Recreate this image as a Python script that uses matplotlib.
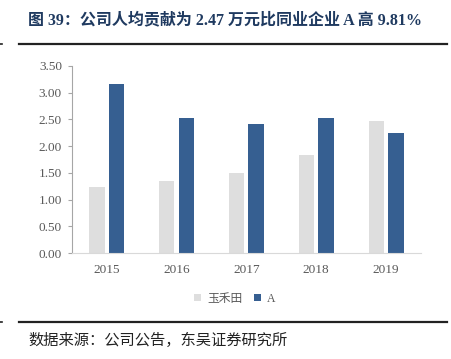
import matplotlib.pyplot as plt
import numpy as np

years = ['2015', '2016', '2017', '2018', '2019']
yuhetian = [1.23, 1.35, 1.49, 1.83, 2.47]
company_a = [3.16, 2.52, 2.42, 2.52, 2.25]
series_names = ['玉禾田', 'A']

serif_cjk = ['Liberation Serif', 'Noto Sans CJK SC']
plt.rcParams['font.family'] = serif_cjk

fig = plt.figure(figsize=(4.51, 3.59), dpi=100)
ax = fig.add_axes([71.7/451, 1-253/359, (421-71.7)/451, (253-66)/359])

x = np.arange(len(years))
w = 0.22
ax.bar(x - 0.14, yuhetian, w, color='#dedede', label=series_names[0])
ax.bar(x + 0.14, company_a, w, color='#365f91', label=series_names[1])

ax.set_xlim(-0.5, 4.5)
ax.set_ylim(0, 3.5)
ax.set_yticks(np.arange(0, 3.51, 0.5))
ax.set_yticklabels(['%.2f' % v for v in np.arange(0, 3.51, 0.5)])
ax.set_xticks(x)
ax.set_xticklabels(years)
ax.tick_params(axis='y', length=3, color='#a6a6a6', labelsize=9.5, labelcolor='#595959', pad=4)
ax.tick_params(axis='x', length=0, labelsize=9.5, labelcolor='#595959', pad=8)
for s in ['top', 'right']:
    ax.spines[s].set_visible(False)
ax.spines['left'].set_color('#a6a6a6')
ax.spines['bottom'].set_color('#d9d9d9')

leg = ax.legend(loc='center', bbox_to_anchor=(0.467, -0.245), ncol=2, frameon=False,
                fontsize=8.5, handlelength=0.6, handleheight=0.6, handletextpad=0.5,
                columnspacing=1.0)
for t in leg.get_texts():
    t.set_color('#595959')

fig.text(0.5, 1-20/359, '图 39：公司人均贡献为 2.47 万元比同业企业 A 高 9.81%',
         ha='center', va='center', fontsize=11.5, fontweight='bold', color='#1f3a60')

# rules above and below the chart
for yy in [44, 322]:
    fig.add_artist(plt.Line2D([19/451, 447/451], [1-yy/359]*2, color='#222222', lw=1.6))
    fig.add_artist(plt.Line2D([0, 2/451], [1-yy/359]*2, color='#222222', lw=1.2))
fig.text(28/451, 1-340/359, '数据来源：公司公告，东吴证券研究所', ha='left', va='center',
         fontsize=11, color='#222222')

plt.savefig('out.png')
